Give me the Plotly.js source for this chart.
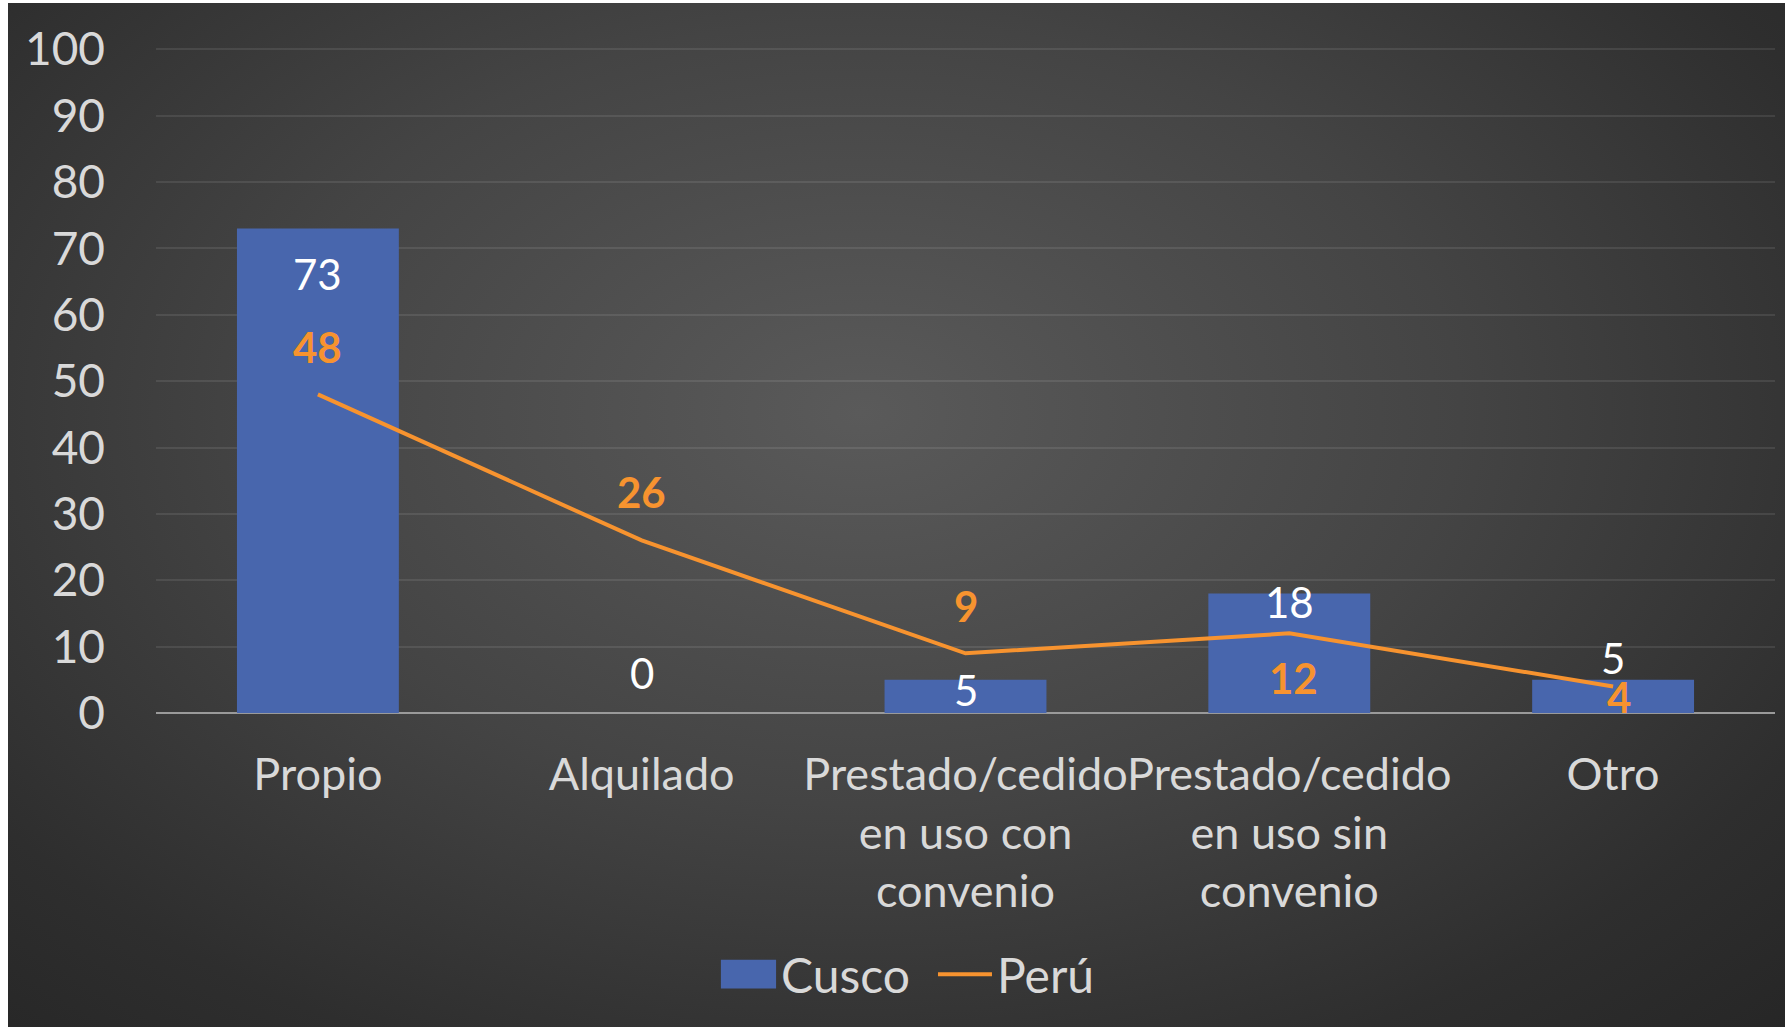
<!DOCTYPE html>
<html>
<head>
<meta charset="utf-8">
<script src="https://cdn.plot.ly/plotly-3.0.1.min.js"></script>
<style>
  html, body { margin: 0; padding: 0; background: #ffffff; }
  #frame {
    position: absolute; left: 8px; top: 3px; width: 1777px; height: 1024px;
    background: radial-gradient(ellipse 75% 85% at 48% 40%, #5a5a5a 0%, #444444 45%, #2e2e2e 80%, #262626 100%);
  }
  #chart { width: 1777px; height: 1024px; }
</style>
</head>
<body>
<div id="frame"><div id="chart"></div></div>
<script>
// ---- data ----
const categories = ['Propio', 'Alquilado', 'Prestado/cedido<br>en uso con<br>convenio', 'Prestado/cedido<br>en uso sin<br>convenio', 'Otro'];
const cusco = [73, 0, 5, 18, 5];
const peru = [48, 26, 9, 12, 4];
const yTicks = [0, 10, 20, 30, 40, 50, 60, 70, 80, 90, 100];

// ---- label placement (pixel offsets from each value) ----
const cuscoLabelShift = [-45, 40, -10, -8, 22];
const peruLabelShift = [47, 48, 47, -45, -11];
const peruLabelXShift = [0, 0, 0, 4, 6];

const FONT = 'Lato, "Open Sans", sans-serif';
const BLUE = '#4866AD';
const ORANGE = '#F7932F';

const traces = [
  {
    type: 'bar', name: 'Cusco', x: categories, y: cusco,
    marker: { color: BLUE }, hoverinfo: 'skip'
  },
  {
    type: 'scatter', mode: 'lines', name: 'Perú', x: categories, y: peru,
    line: { color: ORANGE, width: 4 }, hoverinfo: 'skip'
  }
];

const annotations = [];
categories.forEach((c, i) => {
  annotations.push({
    x: i, y: cusco[i], xref: 'x', yref: 'y', text: String(cusco[i]),
    showarrow: false, yshift: cuscoLabelShift[i],
    font: { family: FONT, size: 42, color: '#FFFFFF' }
  });
  annotations.push({
    x: i, y: peru[i], xref: 'x', yref: 'y', text: '<b>' + peru[i] + '</b>',
    showarrow: false, yshift: peruLabelShift[i], xshift: peruLabelXShift[i],
    font: { family: FONT, size: 42, color: ORANGE }
  });
});

const layout = {
  width: 1777, height: 1024,
  paper_bgcolor: 'rgba(0,0,0,0)', plot_bgcolor: 'rgba(0,0,0,0)',
  margin: { l: 148, r: 10, t: 42.7, b: 314.3 },
  bargap: 0.5,
  font: { family: FONT, color: '#D9D9D9' },
  xaxis: {
    type: 'category', showgrid: false, zeroline: false, showline: false,
    ticks: '', ticklabelstandoff: 31, tickangle: 0,
    tickfont: { family: FONT, size: 45, color: '#D9D9D9' }
  },
  yaxis: {
    range: [0, 100.5], tickvals: yTicks, ticktext: yTicks.map(String),
    showgrid: true, gridcolor: 'rgba(255,255,255,0.09)', gridwidth: 2,
    zeroline: true, zerolinecolor: '#9A9A9A', zerolinewidth: 2.5,
    showline: false, ticks: '', ticklabelstandoff: 50,
    tickfont: { family: FONT, size: 46, color: '#D9D9D9' }
  },
  showlegend: true,
  legend: {
    orientation: 'h', x: 0.3465, xanchor: 'left', y: -0.392, yanchor: 'middle',
    font: { family: FONT, size: 48, color: '#D9D9D9' },
    itemwidth: 54, entrywidth: 147, entrywidthmode: 'pixels',
    bgcolor: 'rgba(0,0,0,0)'
  },
  annotations: annotations
};

Plotly.newPlot('chart', traces, layout, { displayModeBar: false, staticPlot: true }).then(() => {
  // widen the bar swatch in the legend to match the reference's wide swatch
  const first = document.querySelector('#chart .legend .traces');
  if (first) {
    first.querySelectorAll('.legendpoints path').forEach(p => {
      p.setAttribute('transform', 'translate(31.5,0) scale(4.6,2.4)');
    });
  }
});
</script>
</body>
</html>
